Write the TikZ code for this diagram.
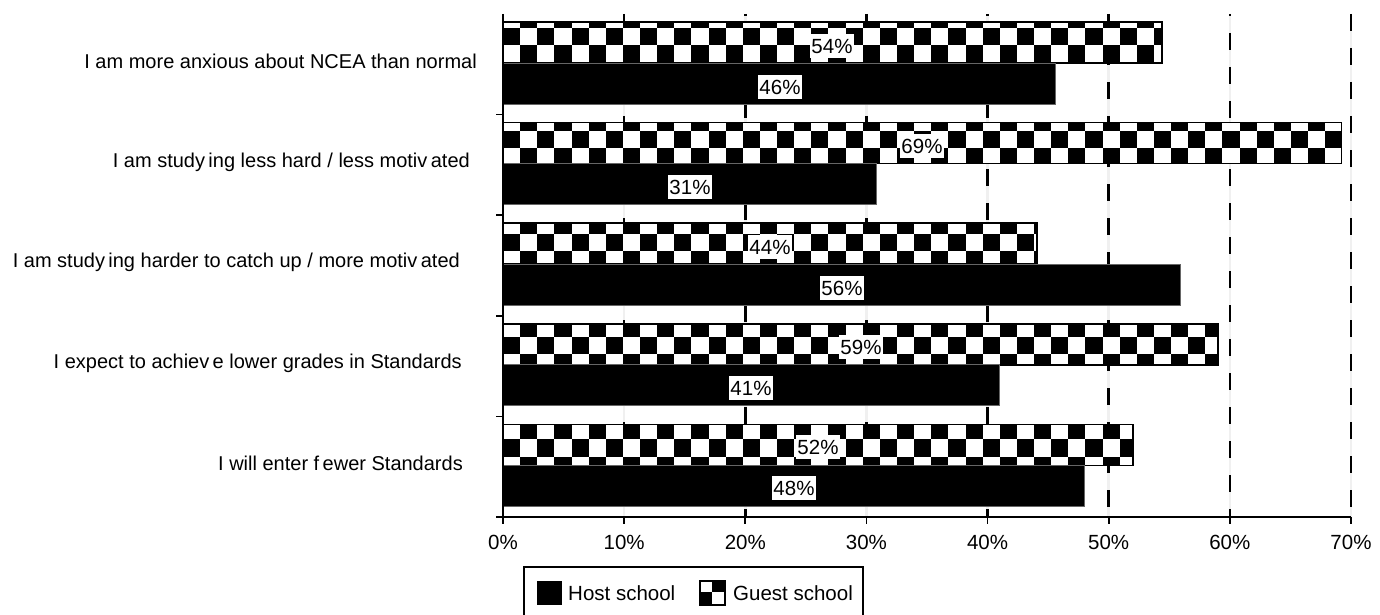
\documentclass[tikz,border=0pt]{standalone}
\usepackage{fontspec}
\setmainfont{Liberation Sans}
\newcommand\nsp[2]{{\spaceskip=0.17em\relax #1 #2}}
\begin{document}
\begin{tikzpicture}[x=1pt,y=-1pt,
  lbl/.style={font=\fontsize{20.5}{24}\selectfont, inner sep=0pt},
  cat/.style={font=\fontsize{20}{24}\selectfont, inner sep=0pt, anchor=east},
  pct/.style={font=\fontsize{20.5}{24}\selectfont, fill=white, inner xsep=1.5pt, inner ysep=5pt},
  grid/.style={line width=2.5pt, dash pattern=on 17pt off 17pt},
  axis/.style={line width=1.8pt},
  hostbar/.style={fill=black, draw=black!60, line width=0.8pt},
  guestframe/.style={draw=black, line width=1.6pt}]
\useasboundingbox (0,0) rectangle (1380,615);
\def\xz{503}\def\sc{12.114}\def\sq{17.13}
% gridlines
\foreach \k/\ph in {1/0,2/15,3/0,4/15,5/0,6/15,7/0}{
  \draw[black!6, line width=2.5pt] (\xz+\k*\sc*10,14) -- (\xz+\k*\sc*10,517);
  \draw[grid, dash phase=\ph pt] (\xz+\k*\sc*10,14) -- (\xz+\k*\sc*10,517);
}
% bars: index / guest / host
\foreach \i/\g/\h in {0/54.4/45.6,1/69.2/30.8,2/44.1/55.9,3/59.0/41.0,4/52.0/48.0}{
  \pgfmathsetmacro\yt{14+100.6*\i+8}
  \pgfmathsetmacro\ym{\yt+41}
  \pgfmathsetmacro\yb{\ym+41}
  \pgfmathsetmacro\xg{\xz+\g*\sc}
  \pgfmathsetmacro\xh{\xz+\h*\sc}
  \pgfmathtruncatemacro\rs{floor((\yt-28.3)/\sq)}
  \pgfmathtruncatemacro\re{\rs+3}
  \pgfmathtruncatemacro\ce{ceil(\g*\sc/\sq)}
  \fill[white] (\xz,\yt) rectangle (\xg,\ym);
  \begin{scope}
    \clip (\xz,\yt) rectangle (\xg,\ym);
    \foreach \r in {\rs,...,\re}{
      \foreach \c in {0,...,\ce}{
        \pgfmathtruncatemacro\pty{mod(\c+\r+100,2)}
        \ifnum\pty=0
          \fill[black] (\xz+\c*\sq,28.3+\r*\sq) rectangle ++(\sq,\sq);
        \fi
      }
    }
  \end{scope}
  \draw[guestframe] (\xz,\yt) rectangle (\xg,\ym);
  \draw[hostbar] (\xz,\ym) rectangle (\xh,\yb);
}
% percent labels
\node[pct] (g0) at (832,46) {54\%};
\node[pct] (h0) at (780,87) {46\%};
\node[pct] (g1) at (922,146) {69\%};
\node[pct] (h1) at (690,187) {31\%};
\node[pct] (g2) at (770,247) {44\%};
\node[pct] (h2) at (842,288) {56\%};
\node[pct] (g3) at (861,347) {59\%};
\node[pct] (h3) at (751,388) {41\%};
\node[pct] (g4) at (818,447) {52\%};
\node[pct] (h4) at (794,488) {48\%};
% axes
\draw[axis] (\xz,14) -- (\xz,524);
\draw[axis] (496,517) -- (1351,517);
\foreach \y in {114.6,215.2,315.8,416.4,517}{\draw[axis] (496,\y) -- (\xz,\y);}
\foreach \k in {1,...,7}{\draw[axis] (\xz+\k*\sc*10,517) -- (\xz+\k*\sc*10,524);}
\foreach \k in {0,...,7}{\pgfmathtruncatemacro\p{\k*10}\node[lbl] (t\k) at (\xz+\k*\sc*10,542) {\p\%};}
% category labels
\node[cat] (c0) at (477,61) {I am more anxious about NCEA than normal};
\node[cat] (c1) at (470,162) {I am \nsp{study}{ing} less hard / less \nsp{motiv}{ated}};
\node[cat] (c2) at (460,262) {I am \nsp{study}{ing} harder to catch up / more \nsp{motiv}{ated}};
\node[cat] (c3) at (462,363) {I expect to \nsp{achiev}{e} lower grades in Standards};
\node[cat] (c4) at (463,463) {I will enter \nsp{f}{ewer} Standards};
% legend
\draw[line width=1.6pt] (524,625) -- (524,567) -- (863,567) -- (863,625);
\fill[black] (537,581) rectangle (562,605);
\node[lbl, anchor=west] (lh) at (568,593) {Host school};
\fill[white] (700,581) rectangle (725,605);
\fill[black] (712,581) rectangle (725,592);
\fill[black] (700,592) rectangle (712,605);
\draw[line width=1.4pt] (700,581) rectangle (725,605);
\node[lbl, anchor=west] (lg) at (733,593) {Guest school};
\end{tikzpicture}
\end{document}
